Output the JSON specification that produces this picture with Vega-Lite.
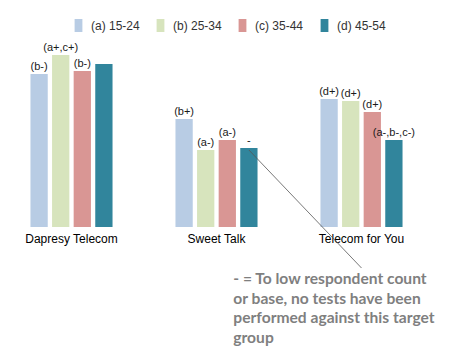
{
  "$schema": "https://vega.github.io/schema/vega-lite/v6.json",
  "width": 435,
  "height": 187,
  "autosize": "none",
  "padding": {"left": -1, "top": 40, "right": 17, "bottom": 133},
  "background": "white",
  "config": {"view": {"stroke": null}, "font": "Liberation Sans"},
  "data": {"values": [
    {"brand": "Dapresy Telecom", "group": "(a) 15-24", "value": 153, "label": "(b-)"},
    {"brand": "Dapresy Telecom", "group": "(b) 25-34", "value": 172, "label": "(a+,c+)"},
    {"brand": "Dapresy Telecom", "group": "(c) 35-44", "value": 156, "label": "(b-)"},
    {"brand": "Dapresy Telecom", "group": "(d) 45-54", "value": 163, "label": ""},
    {"brand": "Sweet Talk", "group": "(a) 15-24", "value": 108, "label": "(b+)"},
    {"brand": "Sweet Talk", "group": "(b) 25-34", "value": 77, "label": "(a-)"},
    {"brand": "Sweet Talk", "group": "(c) 35-44", "value": 87, "label": "(a-)"},
    {"brand": "Sweet Talk", "group": "(d) 45-54", "value": 79, "label": "-"},
    {"brand": "Telecom for You", "group": "(a) 15-24", "value": 128, "label": "(d+)"},
    {"brand": "Telecom for You", "group": "(b) 25-34", "value": 126, "label": "(d+)"},
    {"brand": "Telecom for You", "group": "(c) 35-44", "value": 115, "label": "(d+)"},
    {"brand": "Telecom for You", "group": "(d) 45-54", "value": 87, "label": "(a-,b-,c-)"}
  ]},
  "layer": [
    {
      "mark": {"type": "bar"},
      "encoding": {
        "x": {
          "field": "brand", "type": "nominal", "sort": null,
          "scale": {"paddingInner": 0.434, "paddingOuter": 0.217},
          "axis": {"title": null, "domain": false, "ticks": false, "labelAngle": 0, "labelFontSize": 12, "labelColor": "#000000", "labelPadding": 6, "labelFont": "Liberation Sans"}
        },
        "xOffset": {"field": "group", "type": "nominal", "scale": {"paddingInner": 0.2, "paddingOuter": 0}},
        "y": {"field": "value", "type": "quantitative", "scale": {"domain": [0, 187]}, "axis": null},
        "color": {
          "field": "group", "type": "nominal",
          "scale": {"range": ["#B8CCE4", "#D7E4BD", "#D99694", "#31859C"]},
          "legend": {
            "title": null, "orient": "none", "direction": "horizontal",
            "legendX": 73, "legendY": -21,
            "symbolType": "M-0.6,-1H0.6V1H-0.6Z", "symbolSize": 169, "symbolStrokeWidth": 0,
            "labelFontSize": 12, "labelColor": "#333333", "labelFont": "Liberation Sans",
            "labelOffset": 6, "columnPadding": 14
          }
        }
      }
    },
    {
      "mark": {"type": "text", "baseline": "bottom", "dy": -2, "fontSize": 11, "color": "#1a1a1a", "font": "Liberation Sans"},
      "encoding": {
        "x": {"field": "brand", "type": "nominal", "sort": null},
        "xOffset": {"field": "group", "type": "nominal"},
        "y": {"field": "value", "type": "quantitative", "scale": {"domain": [0, 187]}},
        "text": {"field": "label"}
      }
    },
    {
      "data": {"values": [{"note": "annotation"}]},
      "mark": {"type": "rule", "color": "#555555", "strokeWidth": 0.8},
      "encoding": {
        "x": {"datum": "Sweet Talk"},
        "xOffset": {"datum": "(d) 45-54"},
        "y": {"datum": 77, "scale": {"domain": [0, 187]}},
        "x2": {"datum": "Telecom for You"},
        "y2": {"datum": -41}
      }
    },
    {
      "data": {"values": [{"note": "- = To low respondent count\nor base, no tests have been\nperformed against this target\ngroup"}]},
      "mark": {"type": "text", "align": "left", "baseline": "top", "dx": 6, "fontSize": 15.6, "fontWeight": "bold", "font": "Lato", "color": "#7F7F7F", "lineHeight": 19.6, "lineBreak": "\n"},
      "encoding": {
        "x": {"datum": "Sweet Talk"},
        "xOffset": {"datum": "(c) 35-44"},
        "y": {"datum": -45, "scale": {"domain": [0, 187]}},
        "text": {"field": "note"}
      }
    }
  ]
}
